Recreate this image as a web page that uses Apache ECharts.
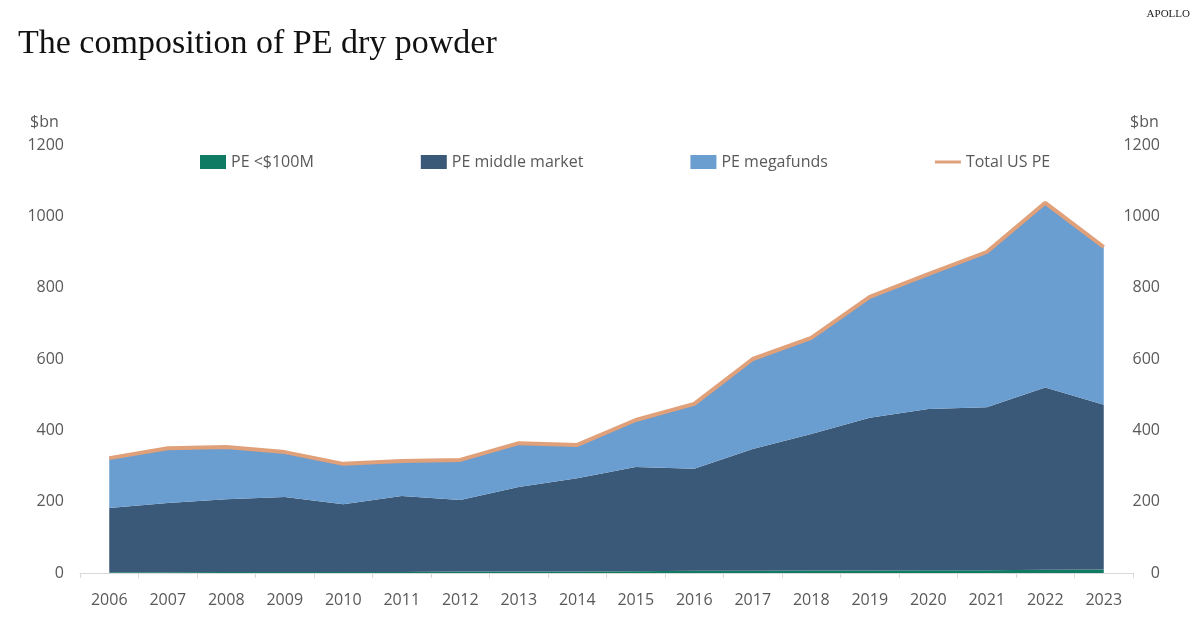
<!DOCTYPE html>
<html>
<head>
<meta charset="utf-8">
<script src="https://cdn.jsdelivr.net/npm/echarts@6/dist/echarts.min.js"></script>
<style>
    html, body { margin: 0; padding: 0; background: #fff; }
    #chart { width: 1200px; height: 623px; }
</style>
</head>
<body>
<div id="chart"></div>
<script>
// 数据（单位：$bn）
const years = ['2006', '2007', '2008', '2009', '2010', '2011', '2012', '2013', '2014', '2015', '2016', '2017', '2018', '2019', '2020', '2021', '2022', '2023']
const smallFunds = [2, 2, 3, 3, 3, 3, 4, 4, 4, 5, 6, 6, 7, 7, 8, 8, 9, 10]
const middleMarket = [180, 194, 204, 210, 190, 213, 201, 237, 262, 292, 286, 342, 383, 428, 452, 457, 511, 462]
const megafunds = [140, 154, 146, 126, 113, 98, 112, 123, 93, 132, 182, 252, 269, 339, 378, 435, 518, 442]
const totalUS = [322, 350, 353, 339, 306, 314, 317, 364, 359, 429, 474, 600, 659, 774, 838, 900, 1038, 914]
const yTicks = [0, 200, 400, 600, 800, 1000, 1200]

const grey = '#595959'
const font = '"Open Sans", "Noto Sans", sans-serif'

const chart = echarts.init(document.getElementById('chart'))

function areaSeries(name, data, color) {
    return {
        name: name,
        type: 'line',
        stack: 'pe',
        data: data,
        symbol: 'none',
        lineStyle: { width: 0 },
        itemStyle: { color: color },
        areaStyle: { color: color, opacity: 1 },
        emphasis: { disabled: true },
    }
}

function valueAxis(side) {
    return {
        type: 'value',
        position: side,
        min: yTicks[0],
        max: yTicks[yTicks.length - 1],
        interval: yTicks[1] - yTicks[0],
        splitLine: { show: false },
        axisLine: { show: false },
        axisTick: { show: false },
        axisLabel: {
            color: grey, fontSize: 16, fontFamily: font,
            align: 'right',
            margin: side === 'left' ? 16 : 27,
            formatter: (v) => String(v),
        },
    }
}

chart.setOption({
    backgroundColor: '#fff',
    animation: false,
    title: {
        text: 'The composition of PE dry powder',
        left: 13, top: 22,
        textStyle: { fontFamily: '"Liberation Serif", serif', fontWeight: 'normal', fontSize: 34, color: '#111' },
    },
    graphic: [
        { type: 'text', right: 10, top: 9, style: { text: 'APOLLO', font: '11px "Liberation Serif", serif', fill: '#222' } },
        { type: 'text', left: 30, top: 114, style: { text: '$bn', font: '16px ' + font, fill: grey } },
        { type: 'text', left: 1130, top: 114, style: { text: '$bn', font: '16px ' + font, fill: grey } },
    ],
    legend: {
        left: 200, top: 154, padding: 0,
        itemWidth: 26, itemHeight: 14, itemGap: 107,
        textStyle: { color: grey, fontSize: 16, fontFamily: font },
        data: [
            { name: 'PE <$100M', icon: 'rect' },
            { name: 'PE middle market', icon: 'rect' },
            { name: 'PE megafunds', icon: 'rect' },
            { name: 'Total US PE', icon: 'path://M0,0 L26,0 L26,3 L0,3 Z' },
        ],
    },
    grid: { left: 80, right: 67, top: 145, bottom: 50 },
    xAxis: {
        type: 'category',
        data: years,
        boundaryGap: true,
        axisLine: { lineStyle: { color: '#d9d9d9', width: 1 } },
        axisTick: { show: true, length: 5, lineStyle: { color: '#d9d9d9' } },
        axisLabel: { color: grey, fontSize: 16, fontFamily: font, margin: 19 },
    },
    yAxis: [valueAxis('left'), valueAxis('right')],
    series: [
        areaSeries('PE <$100M', smallFunds, '#0f7b62'),
        areaSeries('PE middle market', middleMarket, '#3a5877'),
        areaSeries('PE megafunds', megafunds, '#6a9dd0'),
        {
            name: 'Total US PE',
            type: 'line',
            data: totalUS,
            symbol: 'none',
            z: 5,
            itemStyle: { color: '#dfa07a' },
            lineStyle: { color: '#dfa07a', width: 4 },
            emphasis: { disabled: true },
        },
    ],
})
</script>
</body>
</html>
